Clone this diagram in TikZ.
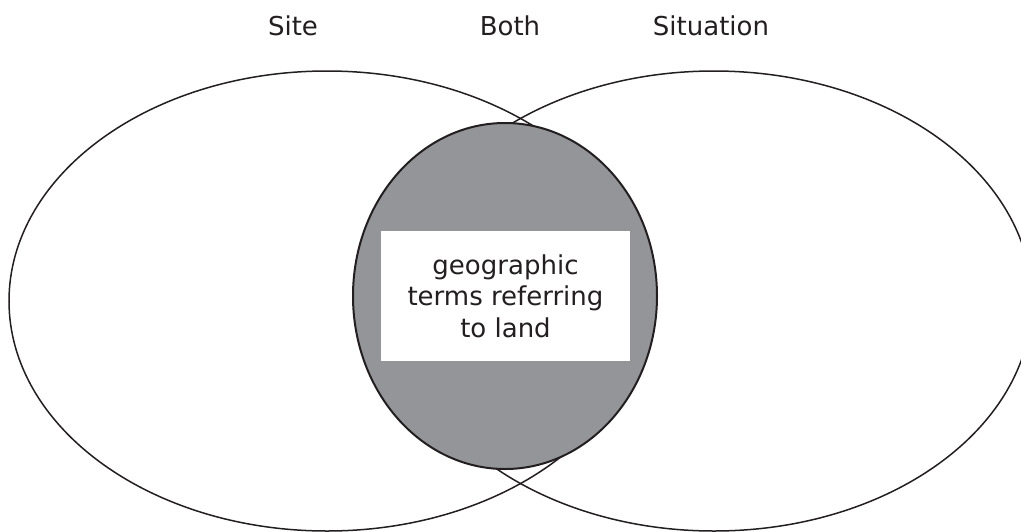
\documentclass[tikz,border=0pt]{standalone}
\usepackage{fontspec}
\setmainfont{DejaVu Sans}
\usetikzlibrary{shapes.geometric}
\definecolor{ink}{HTML}{231F20}
\definecolor{midgrey}{HTML}{939598}
\tikzset{
  bigset/.style={ellipse, draw=ink, line width=1.5pt, inner sep=0pt, minimum width=636pt, minimum height=460pt},
  bothset/.style={ellipse, draw=ink, fill=midgrey, line width=2pt, inner sep=0pt, minimum width=304pt, minimum height=346pt},
  labelbox/.style={fill=white, inner sep=0pt, minimum width=249pt, minimum height=130pt, align=center, text=ink,
    font=\fontsize{26}{31.5}\selectfont},
  heading/.style={anchor=base, text=ink, inner sep=0pt, font=\fontsize{26}{31.5}\selectfont}
}
\begin{document}
\begin{tikzpicture}[x=1pt, y=-1pt]
\useasboundingbox (0,0) rectangle (1021,531);
\clip (0,0) rectangle (1021,531);
\node[bigset] (site) at (327,301) {};
\node[bigset] (situation) at (714,301) {};
\node[bothset] (both) at (505,296) {};
\node[labelbox] (terms) at (505.5,296) {geographic\\terms referring\\to land};
\node[heading] (hsite) at (293,35) {Site};
\node[heading] (hboth) at (510,35) {Both};
\node[heading] (hsituation) at (711,35) {Situation};
\end{tikzpicture}
\end{document}
